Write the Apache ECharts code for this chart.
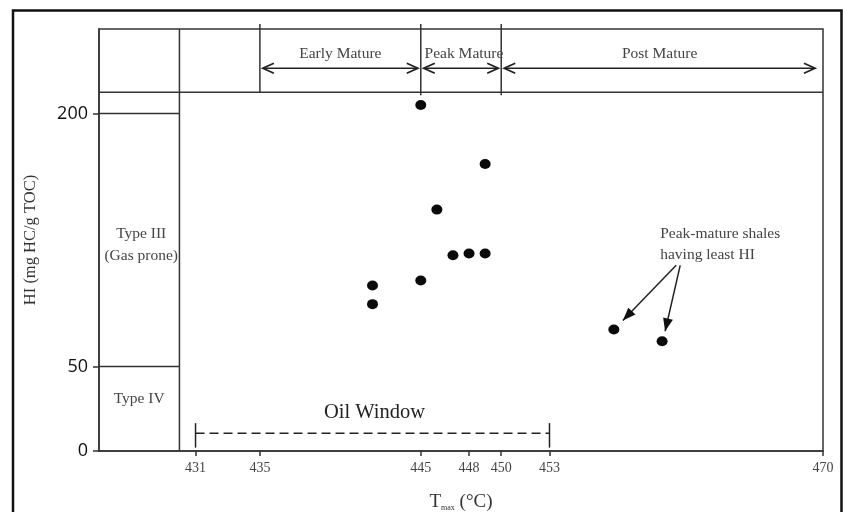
<!DOCTYPE html>
<html>
<head>
<meta charset="utf-8">
<style>
  html, body { margin: 0; padding: 0; background: #fff; }
  #chart { width: 843px; height: 512px; }
</style>
<script src="https://cdn.jsdelivr.net/npm/echarts@6/dist/echarts.min.js"></script>
</head>
<body>
<div id="chart"></div>
<script>
// Tmax (°C) and HI (mg HC/g TOC) of the shale samples
const tmaxValues = [445, 449, 446, 447, 448, 449, 445, 442, 442, 457, 460];
const hiValues   = [205, 170, 143, 116, 117, 117, 101, 98, 87, 72, 65];

// axis ticks
const xTicks = [431, 435, 445, 448, 450, 453, 470];
const yTicks = [0, 50, 200];

// maturity zones across the top band (Tmax boundaries)
const maturityNames  = ['Early Mature', 'Peak Mature', 'Post Mature'];
const maturityBounds = [435, 445, 450, 470];
const bandBase = 212.5;   // HI level of the band's lower edge

// kerogen type column
const typeColumnEdge = 430;
const typeNames  = ['Type III\n(Gas prone)', 'Type IV'];
const typeLevels = [122, 31];
const typeBounds = [50, 200];

// oil window range
const oilWindow = [431, 453];
const oilWindowLevel = 10.5;

// callout for the two least-HI samples (indices into the sample arrays)
const calloutText = 'Peak-mature shales\nhaving least HI';
const calloutAnchor = [461, 110];
const calloutTargets = [9, 10];

const serif = '"Liberation Serif", "Times New Roman", serif';
const ink = '#333';

const chart = echarts.init(document.getElementById('chart'));

function line(p1, p2, extra) {
  return Object.assign({
    type: 'line',
    shape: { x1: p1[0], y1: p1[1], x2: p2[0], y2: p2[1] },
    style: { stroke: ink, lineWidth: 1.5 }
  }, extra || {});
}
function text(str, x, y, size, opts) {
  return {
    type: 'text',
    style: Object.assign({
      text: str, x: x, y: y,
      font: size + 'px ' + serif,
      fill: '#444', align: 'center', verticalAlign: 'middle', lineHeight: size + 8
    }, opts || {})
  };
}
// open chevron arrowhead pointing in direction dir (+1 right, -1 left)
function chevron(x, y, dir) {
  return {
    type: 'polyline',
    shape: { points: [[x - dir * 11, y - 5], [x, y], [x - dir * 11, y + 5]] },
    style: { stroke: '#222', lineWidth: 1.8, fill: null }
  };
}
// filled arrowhead at tip, coming from start
function solidHead(start, tip) {
  const dx = tip[0] - start[0], dy = tip[1] - start[1];
  const len = Math.sqrt(dx * dx + dy * dy);
  const ux = dx / len, uy = dy / len;
  const bx = tip[0] - ux * 13, by = tip[1] - uy * 13;
  return {
    type: 'polygon',
    shape: { points: [tip, [bx - uy * 5, by + ux * 5], [bx + uy * 5, by - ux * 5]] },
    style: { fill: '#111' }
  };
}

function renderDecor(params, api) {
  const c = (x, y) => api.coord([x, y]);
  const kids = [];
  const xMin = 425, xMax = 470, yMax = 250;

  // band lower edge
  kids.push(line(c(xMin, bandBase), c(xMax, bandBase)));
  // type column divider
  kids.push(line(c(typeColumnEdge, 0), c(typeColumnEdge, yMax)));
  // type boundaries
  typeBounds.forEach(v => kids.push(line(c(xMin, v), c(typeColumnEdge, v))));
  // zone dividers in the band (they stick out slightly above the frame)
  maturityBounds.slice(0, 3).forEach((b, i) => {
    const top = c(b, yMax); top[1] -= 5;
    const bottom = c(b, bandBase);
    if (i > 0) bottom[1] += 3;
    kids.push(line(top, bottom));
  });
  // zone arrows and names
  const arrowY = c(0, bandBase)[1] - 24;
  const nameY = c(0, bandBase)[1] - 38;
  maturityNames.forEach((name, i) => {
    const x1 = c(maturityBounds[i], 0)[0] + 3;
    const x2 = c(maturityBounds[i + 1], 0)[0] - (i === 2 ? 8 : 3);
    kids.push(line([x1, arrowY], [x2, arrowY], { style: { stroke: '#222', lineWidth: 1.5 } }));
    kids.push(chevron(x1, arrowY, -1));
    kids.push(chevron(x2, arrowY, 1));
    kids.push(text(name, (x1 + x2) / 2 + (i === 1 ? 3 : 0), nameY, 15.5));
  });

  // type names
  typeNames.forEach((name, i) => {
    const p = c((xMin + typeColumnEdge) / 2, typeLevels[i]);
    kids.push(text(name, p[0] + (i === 0 ? 2 : 0), p[1], 15.5, { lineHeight: 22 }));
  });

  // oil window
  const ow1 = c(oilWindow[0], oilWindowLevel), ow2 = c(oilWindow[1], oilWindowLevel);
  kids.push(line(ow1, ow2, { style: { stroke: '#222', lineWidth: 1.5, lineDash: [9, 5] } }));
  oilWindow.forEach(v => kids.push(line(c(v, 2), c(v, 16.5), { style: { stroke: '#222', lineWidth: 1.5 } })));
  kids.push(text('Oil Window', (ow1[0] + ow2[0]) / 2 + 2, ow1[1] - 21, 20.5, { fill: '#222' }));

  // callout
  const a = c(calloutAnchor[0], calloutAnchor[1]);
  kids.push(text(calloutText, a[0] - 18, a[1] - 42, 15.5, { align: 'left', verticalAlign: 'top', lineHeight: 21 }));
  const offsets = [[9, -9], [3, -10]];
  calloutTargets.forEach((idx, k) => {
    const p = c(tmaxValues[idx], hiValues[idx]);
    const tip = [p[0] + offsets[k][0], p[1] + offsets[k][1]];
    const start = [a[0] - 2 + k * 4, a[1]];
    kids.push(line(start, tip, { style: { stroke: '#222', lineWidth: 1.5 } }));
    kids.push(solidHead(start, tip));
  });

  return { type: 'group', children: kids };
}

chart.setOption({
  animation: false,
  backgroundColor: '#fff',
  graphic: [{
    type: 'rect',
    shape: { x: 13, y: 10.5, width: 828.5, height: 600 },
    style: { fill: null, stroke: '#111', lineWidth: 2.5 },
    silent: true
  }],
  grid: {
    left: 99, right: 20, top: 29, bottom: 61,
    outerBoundsMode: 'none', containLabel: false,
    show: true, borderColor: ink, borderWidth: 1.5, backgroundColor: 'transparent'
  },
  xAxis: {
    type: 'value', min: 425, max: 470,
    name: '{t|T}{s|max}{t| (°C)}',
    nameLocation: 'middle', nameGap: 42,
    nameTextStyle: {
      rich: {
        t: { fontFamily: serif, fontSize: 19, color: '#333' },
        s: { fontFamily: serif, fontSize: 8, color: '#333', verticalAlign: 'bottom', padding: [10, 0, 0, 0] }
      }
    },
    axisLine: { show: true, lineStyle: { color: ink, width: 1.5 } },
    axisTick: { show: true, length: 5, lineStyle: { color: ink, width: 1.5 }, customValues: xTicks },
    axisLabel: { fontFamily: serif, fontSize: 14, color: '#444', margin: 10, customValues: xTicks },
    splitLine: { show: false }
  },
  yAxis: {
    type: 'value', min: 0, max: 250,
    name: 'HI (mg HC/g TOC)',
    nameLocation: 'middle', nameGap: 60,
    nameTextStyle: { fontFamily: serif, fontSize: 16.5, color: '#333' },
    axisLine: { show: true, lineStyle: { color: ink, width: 1.5 } },
    axisTick: { show: true, length: 6, lineStyle: { color: ink, width: 1.5 }, customValues: yTicks },
    axisLabel: { fontFamily: '"Open Sans", "Noto Sans", sans-serif', fontSize: 18, color: '#111', margin: 11, customValues: yTicks },
    splitLine: { show: false }
  },
  series: [
    {
      type: 'custom',
      renderItem: renderDecor,
      data: [[0, 0]],
      clip: false,
      silent: true,
      z: 3
    },
    {
      type: 'scatter',
      data: tmaxValues.map((t, i) => [t, hiValues[i]]),
      symbol: 'circle',
      symbolSize: [11, 10],
      itemStyle: { color: '#0a0a0a', opacity: 1 },
      z: 5
    }
  ]
});
</script>
</body>
</html>
